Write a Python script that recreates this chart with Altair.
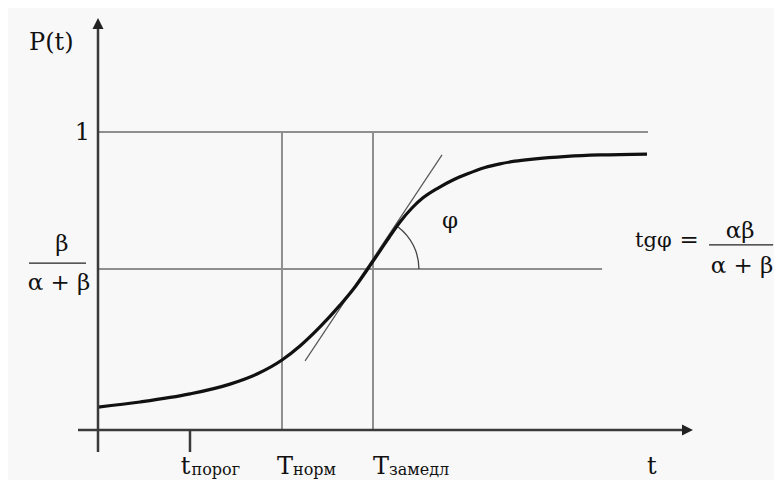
import altair as alt
import pandas as pd

# ---- data (t in arbitrary time units, P in probability units) ----
curve_t = [0.0, 1.527, 3.345, 4.8, 5.782, 6.691, 7.345, 8.073, 8.8, 9.345, 9.782,
           10.255, 10.618, 10.982, 11.418, 11.818, 12.364, 12.909, 13.418, 14.073,
           14.618, 15.164, 15.818, 17.055, 18.255, 19.964]
curve_p = [0.077, 0.094, 0.121, 0.154, 0.188, 0.235, 0.282, 0.346, 0.419, 0.480, 0.537,
           0.601, 0.651, 0.698, 0.745, 0.779, 0.812, 0.839, 0.859, 0.881,
           0.893, 0.902, 0.909, 0.918, 0.923, 0.926]

t_porog, T_norm, T_zam = 3.345, 6.69, 10.0
p_one, p_ratio = 1.0, 0.54
t_end_one, t_end_ratio = 20.0, 18.33

tangent_t = [7.53, 12.51]
tangent_p = [0.232, 0.923]
arc_center_t, arc_center_p = 9.745, 0.54

# grid (thin gray) segments: t1, p1, t2, p2
grid_t1 = [0.0, 0.0, T_norm, T_zam]
grid_p1 = [p_one, p_ratio, 0.0, 0.0]
grid_t2 = [t_end_one, t_end_ratio, T_norm, T_zam]
grid_p2 = [p_one, p_ratio, p_one, p_one]

# axes segments
axis_t1 = [0.0, -0.727, t_porog]
axis_p1 = [-0.074, 0.0, 0.0]
axis_t2 = [0.0, 21.27, t_porog]
axis_p2 = [1.346, 0.0, -0.074]

# fraction bars
frac_t1 = [-2.509, 22.22]
frac_t2 = [-0.436, 24.55]
frac_p = [0.560, 0.621]

# text labels
main_labels = ["P(t)", "t", "T", "T", "t"]
main_t = [-2.509, 3.01, 6.509, 10.0, 19.964]
main_p = [1.275, -0.1477, -0.1477, -0.1477, -0.1477]

tg_labels = ["tgφ"]
tg_t = [19.53]
tg_p = [0.614]

center_labels = ["β", "α + β", "φ", "αβ", "α + β", "="]
center_t = [-1.309, -1.418, 12.8, 23.35, 23.42, 21.5]
center_p = [0.602, 0.470, 0.678, 0.644, 0.527, 0.614]

sub_labels = ["порог", "норм", "замедл"]
sub_t = [3.4, 7.091, 10.582]
sub_p = [-0.151, -0.151, -0.151]

one_label = ["1"]
one_t = [-0.291]
one_p = [0.973]

# ---- layout ----
W, H = 766, 472
xs = alt.Scale(domain=[-3.2727, 24.5818], nice=False, zero=False)
ys = alt.Scale(domain=[-0.1678, 1.4161], nice=False, zero=False)
FONT = "DejaVu Serif"


def X(f):
    return alt.X(f, type="quantitative", scale=xs, axis=None)


def Y(f):
    return alt.Y(f, type="quantitative", scale=ys, axis=None)


def segs(t1, p1, t2, p2):
    return pd.DataFrame({"t1": t1, "p1": p1, "t2": t2, "p2": p2})


grid = alt.Chart(segs(grid_t1, grid_p1, grid_t2, grid_p2)).mark_rule(
    color="#8e8e8e", strokeWidth=2).encode(x=X("t1"), y=Y("p1"), x2="t2", y2="p2")

tangent = alt.Chart(segs([tangent_t[0]], [tangent_p[0]], [tangent_t[1]], [tangent_p[1]])).mark_rule(
    color="#555555", strokeWidth=1.2).encode(x=X("t1"), y=Y("p1"), x2="t2", y2="p2")

axes = alt.Chart(segs(axis_t1, axis_p1, axis_t2, axis_p2)).mark_rule(
    color="#3a3a3a", strokeWidth=2.5).encode(x=X("t1"), y=Y("p1"), x2="t2", y2="p2")

fracs = alt.Chart(segs(frac_t1, frac_p, frac_t2, frac_p)).mark_rule(
    color="#222222", strokeWidth=1.3).encode(x=X("t1"), y=Y("p1"), x2="t2", y2="p2")

curve = alt.Chart(pd.DataFrame({"t": curve_t, "p": curve_p})).mark_line(
    color="#111111", strokeWidth=3.2, interpolate="monotone").encode(x=X("t"), y=Y("p"))

arrow_up = alt.Chart(pd.DataFrame({"t": [0.0], "p": [1.364]})).mark_point(
    shape="M0,-1L-1,1L1,1Z", filled=True, size=121, color="#222222", opacity=1).encode(x=X("t"), y=Y("p"))
arrow_right = alt.Chart(pd.DataFrame({"t": [21.436], "p": [0.0]})).mark_point(
    shape="M1,0L-1,-1L-1,1Z", filled=True, size=121, color="#222222", opacity=1).encode(x=X("t"), y=Y("p"))

arc = alt.Chart(pd.DataFrame({"t": [arc_center_t], "p": [arc_center_p]})).mark_arc(
    theta=0.651, theta2=1.5708, radius=53.6, radius2=52.3, color="#444444").encode(x=X("t"), y=Y("p"))


def texts(labels, t, p, size, align):
    return alt.Chart(pd.DataFrame({"t": t, "p": p, "label": labels})).mark_text(
        font=FONT, fontSize=size, align=align, baseline="alphabetic", color="#111111"
    ).encode(x=X("t"), y=Y("p"), text="label:N")


main_txt = texts(main_labels, main_t, main_p, 24, "left")
tg_txt = texts(tg_labels, tg_t, tg_p, 21, "left")
center_txt = texts(center_labels, center_t, center_p, 23, "center")
sub_txt = texts(sub_labels, sub_t, sub_p, 16, "left")
one_txt = texts(one_label, one_t, one_p, 24, "right")

chart = alt.layer(
    grid, tangent, curve, axes, fracs, arrow_up, arrow_right, arc,
    main_txt, tg_txt, center_txt, sub_txt, one_txt
).properties(
    width=W, height=H, background="#f8f8f8", padding=0,
    autosize=alt.AutoSizeParams(type="none")
).configure_view(strokeWidth=0)

chart.save("out.html", embed_options={"renderer": "svg", "actions": False})
